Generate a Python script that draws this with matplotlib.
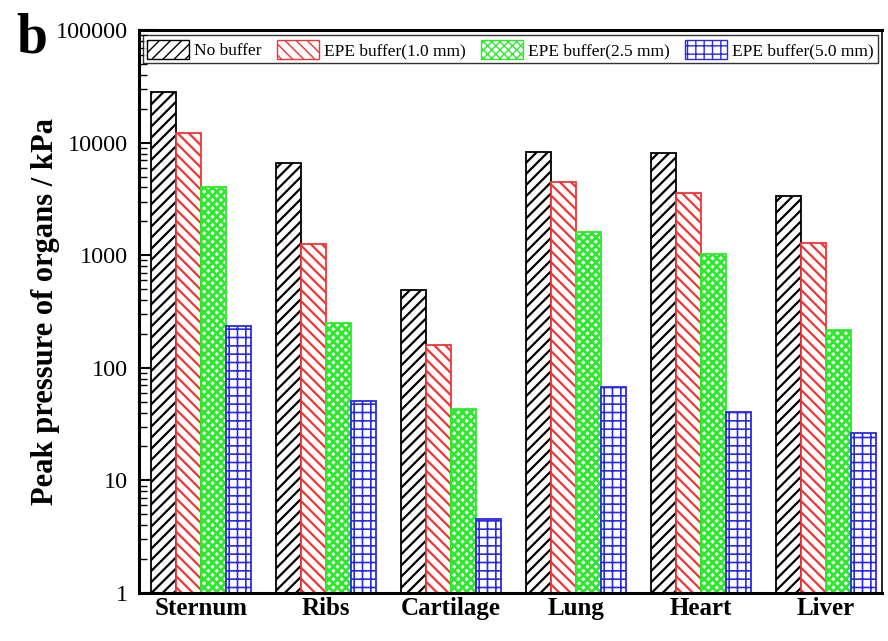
import numpy as np
import matplotlib
matplotlib.use("Agg")
import matplotlib.pyplot as plt
from matplotlib.patches import Patch

plt.rcParams["font.family"] = ["Liberation Serif", "DejaVu Serif"]

# --- Data: peak pressure of organs (kPa) ---
organs = ["Sternum", "Ribs", "Cartilage", "Lung", "Heart", "Liver"]
series_names = ["No buffer", "EPE buffer(1.0 mm)", "EPE buffer(2.5 mm)", "EPE buffer(5.0 mm)"]
no_buffer = [28100, 6600, 490, 8250, 8100, 3350]
epe_1_0 = [12200, 1270, 159, 4470, 3570, 1280]
epe_2_5 = [4030, 250, 43, 1610, 1025, 217]
epe_5_0 = [236, 51, 4.5, 67, 40.5, 26.4]

values = [no_buffer, epe_1_0, epe_2_5, epe_5_0]
edge_colors = ["black", "#f03535", "#2ee82e", "#2a2ae0"]
hatches = ["///", "\\\\\\", "xxxx", "++"]
hatch_lw = [1.6, 1.6, 2.0, 1.2]

fig = plt.figure(figsize=(8.88, 6.41), dpi=100)
ax = fig.add_axes([0.1565, 0.075, 0.8365, 0.878])

x = np.arange(len(organs))
width = 0.2
offsets = (np.arange(4) - 1.5) * width

handles = []
for k in range(4):
    # hatch line width is picked up when each patch is created
    with plt.rc_context({"hatch.linewidth": hatch_lw[k]}):
        ax.bar(x + offsets[k], values[k], width, facecolor="white",
               edgecolor=edge_colors[k], hatch=hatches[k], linewidth=1.3, zorder=2)
        handles.append(Patch(facecolor="white", edgecolor=edge_colors[k],
                             hatch=hatches[k], linewidth=1.0))

ax.set_yscale("log")
ax.set_ylim(1, 100000)
ax.set_xlim(-0.5, 5.45)
ax.set_yticks([1, 10, 100, 1000, 10000, 100000])
ax.set_yticklabels(["1", "10", "100", "1000", "10000", "100000"], fontsize=17.5)
ax.set_xticks(x)
ax.set_xticklabels(organs, fontsize=18, fontweight="bold")
ax.tick_params(axis="y", which="major", direction="in", length=12, width=1.5, pad=8)
ax.tick_params(axis="y", which="minor", direction="in", length=6, width=1.0)
ax.tick_params(axis="x", which="both", length=0, pad=3)
for side in ["left", "bottom", "top"]:
    ax.spines[side].set_linewidth(2.2)
ax.spines["right"].set_linewidth(1.2)

ax.set_ylabel("Peak pressure of organs / kPa", fontsize=22, fontweight="bold", labelpad=-3)

leg = ax.legend(handles, series_names, loc="upper center", ncol=4,
                bbox_to_anchor=(0.5, 1.0), fontsize=12.5, frameon=True, fancybox=False,
                edgecolor="black", handlelength=2.4, handleheight=1.3,
                handletextpad=0.3, columnspacing=0.9, borderpad=0.25,
                borderaxespad=0.3)
leg.get_frame().set_linewidth(1.0)

fig.text(0.036, 0.94, "b", fontsize=40, fontweight="bold", ha="center", va="center")

fig.savefig("out.png", dpi=100)
